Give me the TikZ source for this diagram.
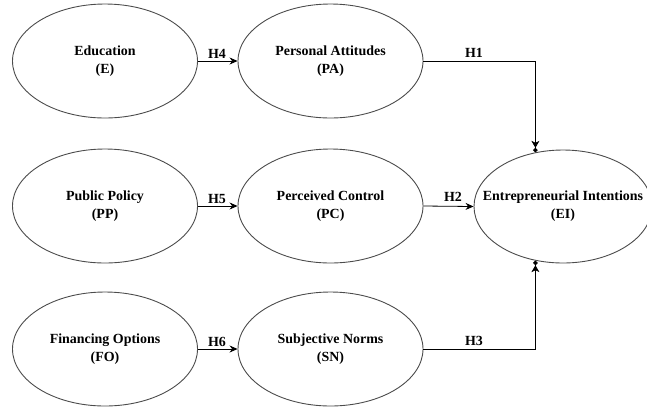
\documentclass[tikz,border=0pt]{standalone}
\usepackage{fontspec}
\setmainfont{Liberation Serif}
\usetikzlibrary{shapes.geometric,arrows.meta}
\begin{document}
\begin{tikzpicture}[x=1bp,y=-1bp,
  oval/.style={ellipse,draw=black!70,line width=0.9bp,inner sep=0pt,minimum width=185bp,minimum height=114bp},
  txt/.style={font=\fontsize{14}{18}\selectfont\bfseries,align=center,inner sep=0pt},
  hlab/.style={font=\fontsize{14}{16}\selectfont\bfseries,inner sep=0pt,anchor=base},
  link/.style={draw=black,line width=0.8bp,-{Stealth[length=8bp,width=7bp]}},
  elink/.style={draw=black,line width=0.8bp,-{Stealth[length=7bp,width=8bp,inset=2bp]Circle[length=4.5bp]}}]
\useasboundingbox (0,0) rectangle (647,406);
\clip (0,0) rectangle (647,406);
% ovals
\node[oval] (E)  at (105,61) {};
\node[oval] (PA) at (330.5,61) {};
\node[oval] (PP) at (105,206) {};
\node[oval] (PC) at (330.5,206) {};
\node[oval] (FO) at (105,349) {};
\node[oval] (SN) at (330.5,349) {};
\node[oval,minimum width=178bp,minimum height=113bp] (EI) at (563,206.5) {};
% texts
\node[txt] (tE)  at (E.center)  {Education\\(E)};
\node[txt] (tPA) at (PA.center) {Personal Attitudes\\(PA)};
\node[txt] (tPP) at (PP.center) {Public Policy\\(PP)};
\node[txt] (tPC) at (PC.center) {Perceived Control\\(PC)};
\node[txt] (tFO) at (FO.center) {Financing Options\\(FO)};
\node[txt] (tSN) at (SN.center) {Subjective Norms\\(SN)};
\node[txt] (tEI) at (EI.center) {Entrepreneurial Intentions\\(EI)};
% connectors
\draw[link] (E.east) -- (PA.west);
\draw[link] (PP.east) -- (PC.west);
\draw[link] (FO.east) -- (SN.west);
\draw[link] (PC.east) -- (EI.west);
\draw[elink] (PA.east) -| (EI.117.4);
\draw[elink] (SN.east) -| (EI.-117.4);
% labels
\node[hlab] (h4) at (217,58) {H4};
\node[hlab] (h5) at (217,203) {H5};
\node[hlab] (h6) at (217,346) {H6};
\node[hlab] (h1) at (474,57) {H1};
\node[hlab] (h2) at (453,201) {H2};
\node[hlab] (h3) at (474,345) {H3};
\end{tikzpicture}
\end{document}
